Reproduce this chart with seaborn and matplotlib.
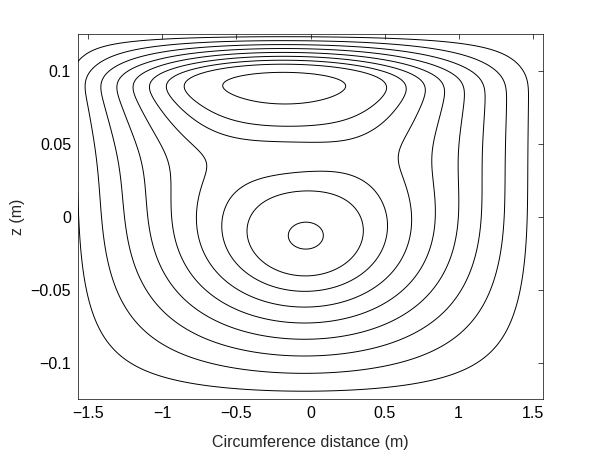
import numpy as np
import matplotlib
matplotlib.use("Agg")
import matplotlib.pyplot as plt
import seaborn as sns

# ---------------- data ----------------
x_ticks = [-1.5, -1, -0.5, 0, 0.5, 1, 1.5]
x_tick_labels = ["\u22121.5", "\u22121", "\u22120.5", "0", "0.5", "1", "1.5"]
y_ticks = [-0.1, -0.05, 0, 0.05, 0.1]
y_tick_labels = ["\u22120.1", "\u22120.05", "0", "0.05", "0.1"]
x_range = [-np.pi / 2, np.pi / 2]
z_range = [-0.125, 0.125]

# circulation cells (lower halo, lower core, upper, gap between them):
# centre, half-width, strength
cell_x = [-0.04, -0.03, -0.20, -0.12]
cell_z = [-0.014, -0.014, 0.094, 0.042]
cell_wx = [0.80, 0.15, 1.00, 0.50]
cell_wz = [0.056, 0.012, 0.009, 0.015]
cell_strength = [1.0, 0.25, 2.45, -0.5]

# walls where the stream function vanishes
wall_x = [-1.72, 1.62]
wall_z = [-0.132, 0.126]

# contour values (stream function normalised to 10.2 at lower cell centre)
contour_levels = [1, 2, 3, 4, 5, 6, 7, 8, 9.8]
lower_peak = 10.2

# ---------------- stream function on a grid ----------------
su, sv = x_range[1], z_range[1]          # normalising scales
nx, ny = 240, 200
u0, u1 = wall_x[0] / su, wall_x[1] / su
v0, v1 = wall_z[0] / sv, wall_z[1] / sv
du = (u1 - u0) / (nx + 1)
dv = (v1 - v0) / (ny + 1)
ui = u0 + du * np.arange(1, nx + 1)
vi = v0 + dv * np.arange(1, ny + 1)
U, V = np.meshgrid(ui, vi, indexing="ij")

src = np.zeros_like(U)
for cx, cz, wx, wz, s in zip(cell_x, cell_z, cell_wx, cell_wz, cell_strength):
    a, b = wx / su, wz / sv
    src += s / (np.pi * a * b) * np.exp(-((U - cx / su) / a) ** 2 - ((V - cz / sv) / b) ** 2)

ix = np.arange(1, nx + 1)
iy = np.arange(1, ny + 1)
Sx = np.sin(np.pi * np.outer(ix, ix) / (nx + 1))
Sy = np.sin(np.pi * np.outer(iy, iy) / (ny + 1))
lx = (2 - 2 * np.cos(np.pi * ix / (nx + 1))) / du ** 2
ly = (2 - 2 * np.cos(np.pi * iy / (ny + 1))) / dv ** 2
shat = Sx @ src @ Sy
phat = shat / (lx[:, None] + ly[None, :])
psi = Sx @ phat @ Sy * (2.0 / (nx + 1)) * (2.0 / (ny + 1))

# normalise
iu = np.argmin(np.abs(ui - cell_x[0] / su))
iv = np.argmin(np.abs(vi - cell_z[0] / sv))
psi = psi / psi[iu, iv] * lower_peak

X = U * su
Z = V * sv

# ---------------- plot ----------------
sns.set_theme(style="white")
plt.rcParams["font.family"] = ["Liberation Sans", "DejaVu Sans"]
fig = plt.figure(figsize=(6, 4.5), dpi=100)
ax = fig.add_axes([0.13, 0.113, 0.775, 0.811])
ax.contour(X, Z, psi, levels=contour_levels, colors="black", linewidths=0.7)
ax.set_xlim(*x_range)
ax.set_ylim(*z_range)
ax.set_xticks(x_ticks)
ax.set_xticklabels(x_tick_labels)
ax.set_yticks(y_ticks)
ax.set_yticklabels(y_tick_labels)
ax.tick_params(direction="in", length=3.4, width=0.5, top=True, right=True,
               labelsize=11.5, colors="black", pad=5)
for sp in ax.spines.values():
    sp.set_color("black")
    sp.set_linewidth(0.5)
    sp.set_visible(True)
ax.set_xlabel("Circumference distance (m)", fontsize=11.5, labelpad=10)
ax.set_ylabel("z (m)", fontsize=11.5, labelpad=4)
fig.savefig("out.png", dpi=100, facecolor="white")
